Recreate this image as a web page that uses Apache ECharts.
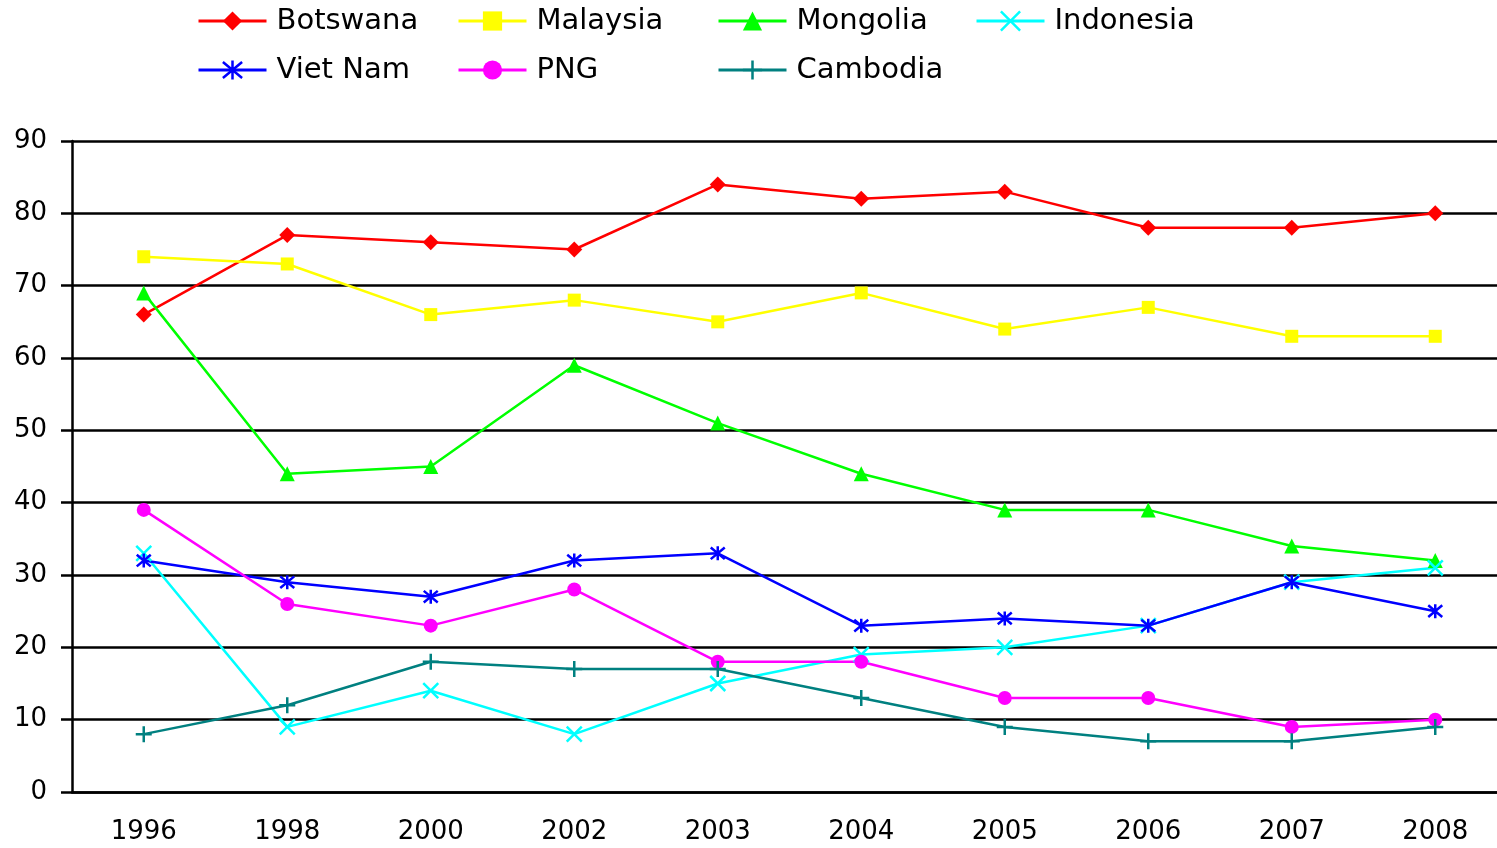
<!DOCTYPE html>
<html>
<head>
<meta charset="utf-8">
<script src="https://cdn.jsdelivr.net/npm/echarts@6/dist/echarts.min.js"></script>
<style>
html,body{margin:0;padding:0;background:#fff;overflow:hidden;width:1497px;height:848px;}
#chart{width:1507px;height:848px;}
</style>
</head>
<body>
<div id="chart"></div>
<script>
const years = ['1996','1998','2000','2002','2003','2004','2005','2006','2007','2008'];
const botswana  = [66, 77, 76, 75, 84, 82, 83, 78, 78, 80];
const malaysia  = [74, 73, 66, 68, 65, 69, 64, 67, 63, 63];
const mongolia  = [69, 44, 45, 59, 51, 44, 39, 39, 34, 32];
const indonesia = [33, 9, 14, 8, 15, 19, 20, 23, 29, 31];
const vietnam   = [32, 29, 27, 32, 33, 23, 24, 23, 29, 25];
const png       = [39, 26, 23, 28, 18, 18, 13, 13, 9, 10];
const cambodia  = [8, 12, 18, 17, 17, 13, 9, 7, 7, 9];
const yTicks = [0, 10, 20, 30, 40, 50, 60, 70, 80, 90];

const FONT = 'DejaVu Sans';
const ASTERISK = 'path://M0,0L10,10M10,0L0,10M5,-1L5,11';
const XMARK = 'path://M0,0L10,10M10,0L0,10';
const PLUS = 'path://M5,0L5,10M0,5L10,5';

const defs = [
  {name:'Botswana',  data:botswana,  color:'#ff0000', symbol:'diamond',  size:16, stroke:false},
  {name:'Malaysia',  data:malaysia,  color:'#ffff00', symbol:'rect',     size:13, stroke:false},
  {name:'Mongolia',  data:mongolia,  color:'#00ff00', symbol:'triangle', size:15, stroke:false},
  {name:'Indonesia', data:indonesia, color:'#00ffff', symbol:XMARK,      size:15, stroke:true},
  {name:'Viet Nam',  data:vietnam,   color:'#0000ff', symbol:ASTERISK,   size:14, stroke:true},
  {name:'PNG',       data:png,       color:'#ff00ff', symbol:'circle',   size:14, stroke:false},
  {name:'Cambodia',  data:cambodia,  color:'#008080', symbol:PLUS,       size:16, stroke:true}
];

const legendPos = [
  [197, 6], [457, 6], [717, 6], [975, 6],
  [197, 55], [457, 55], [717, 55]
];

const series = defs.map(d => ({
  name: d.name,
  type: 'line',
  data: d.data,
  symbol: d.symbol,
  symbolSize: d.size,
  showAllSymbol: true,
  animation: false,
  lineStyle: {color: d.color, width: 2.5},
  itemStyle: d.stroke
    ? {color: d.color, borderColor: d.color, borderWidth: 2.5}
    : {color: d.color, borderWidth: 0}
}));

const legends = defs.map((d, i) => ({
  data: [{name: d.name, itemStyle: d.stroke ? {borderColor: d.color, borderWidth: 2.5} : {}}],
  left: legendPos[i][0],
  top: legendPos[i][1],
  padding: 0,
  itemWidth: 68,
  itemHeight: 24,
  itemGap: 0,
  selectedMode: false,
  lineStyle: {width: 3},
  textStyle: {fontFamily: FONT, fontSize: 29, color: '#000', lineHeight: 30, padding: [0,0,0,5]}
}));

const chart = echarts.init(document.getElementById('chart'), null, {renderer: 'canvas'});
chart.setOption({
  backgroundColor: '#ffffff',
  animation: false,
  legend: legends,
  grid: {left: 72, right: 0, top: 141, bottom: 56, containLabel: false},
  xAxis: {
    type: 'category',
    data: years,
    boundaryGap: true,
    axisLine: {show: true, lineStyle: {color: '#000', width: 2.5}},
    axisTick: {show: false},
    axisLabel: {fontFamily: FONT, fontSize: 26, color: '#000', margin: 27}
  },
  yAxis: {
    type: 'value',
    min: yTicks[0],
    max: yTicks[yTicks.length - 1],
    interval: 10,
    axisLine: {show: true, lineStyle: {color: '#000', width: 2.5}},
    axisTick: {show: true, length: 11, lineStyle: {color: '#000', width: 2.5}},
    axisLabel: {fontFamily: FONT, fontSize: 26, color: '#000', margin: 25},
    splitLine: {show: true, lineStyle: {color: '#000', width: 2.5}}
  },
  series: series
});
</script>
</body>
</html>
